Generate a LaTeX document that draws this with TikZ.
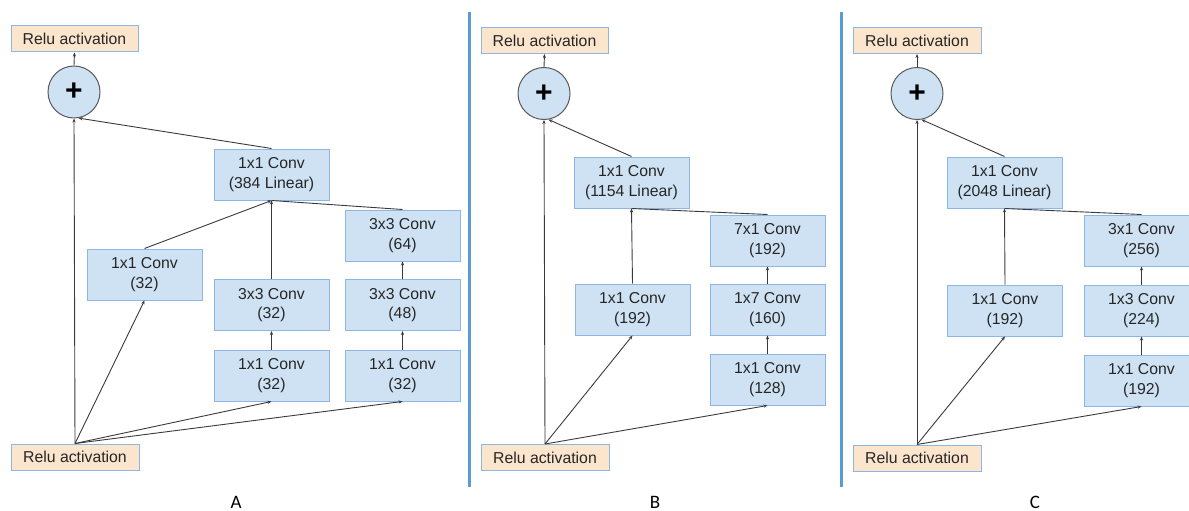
\documentclass[tikz,border=0pt]{standalone}
\usepackage{fontspec}
\setmainfont{Liberation Sans}
\newfontfamily\labelfont{Carlito}
\usetikzlibrary{arrows.meta}
\definecolor{convfill}{HTML}{CFE2F3}
\definecolor{convline}{HTML}{8DB6E6}
\definecolor{relufill}{HTML}{FCE5CD}
\definecolor{wire}{HTML}{3A3A3A}
\definecolor{divider}{HTML}{5B9BD5}
\definecolor{ringline}{HTML}{5A5A5A}
\begin{document}
\begin{tikzpicture}[x=1pt,y=-1pt,
  convbox/.style={draw=convline,fill=convfill,line width=1pt,inner sep=0pt,
    minimum width=115pt,minimum height=51pt,align=center,
    font=\fontsize{15.8}{19.5}\selectfont,text=black!85},
  relubox/.style={draw=convline,fill=relufill,line width=1pt,inner sep=0pt,
    minimum width=127pt,minimum height=26pt,
    font=\fontsize{15.8}{19.5}\selectfont,text=black!85},
  sumnode/.style={circle,draw=ringline,fill=convfill,line width=1pt,
    minimum size=52pt,inner sep=0pt,font=\fontsize{30}{30}\selectfont\bfseries},
  flow/.style={draw=wire,line width=0.9pt,-{Stealth[length=4pt,width=3.2pt]}},
  joinline/.style={draw=wire,line width=0.9pt},
  sep/.style={draw=divider,line width=2.4pt},
  panel/.style={inner sep=0pt,font=\labelfont\fontsize{19}{19}\selectfont}]
\useasboundingbox (0,0) rectangle (1189,511);

% ---------- block A ----------
\node[relubox] (aout) at (74.5,39) {Relu activation};
\node[sumnode] (asum) at (74,92) {+};
\node[convbox] (alin) at (271.5,174.5) {1x1 Conv\\(384 Linear)};
\node[convbox] (ab1) at (144.5,274.5) {1x1 Conv\\(32)};
\node[convbox] (ab2b) at (271.5,305) {3x3 Conv\\(32)};
\node[convbox] (ab2a) at (271.5,375.5) {1x1 Conv\\(32)};
\node[convbox] (ab3c) at (402.5,235.5) {3x3 Conv\\(64)};
\node[convbox] (ab3b) at (402.5,305) {3x3 Conv\\(48)};
\node[convbox] (ab3a) at (402.5,375.5) {1x1 Conv\\(32)};
\node[relubox,minimum width=128pt] (ain) at (75,457) {Relu activation};
\node[panel] (alab) at (236,502) {A};

\draw[flow] (asum.north) -- (aout.south);
\draw[flow] (ain.north) -- (asum.south);
\draw[flow] (alin.north) -- (asum.-80);
\draw[flow] (ain.north) -- (ab1.south);
\draw[flow] (ain.north) -- (ab2a.south);
\draw[flow] (ain.north) -- (ab3a.south);
\draw[flow] (ab2a.north) -- (ab2b.south);
\draw[flow] (ab3a.north) -- (ab3b.south);
\draw[flow] (ab3b.north) -- (ab3c.south);
\draw[flow] (ab1.north) -- (alin.south);
\draw[flow] (ab2b.north) -- (alin.south);
\draw[joinline] (ab3c.north) -- (alin.south);

\draw[sep] (469.5,12) -- (469.5,487);

% ---------- block B ----------
\node[relubox] (bout) at (544.5,40.5) {Relu activation};
\node[sumnode] (bsum) at (544,93.5) {+};
\node[convbox] (blin) at (631.5,182.5) {1x1 Conv\\(1154 Linear)};
\node[convbox] (bb1) at (632.5,309.5) {1x1 Conv\\(192)};
\node[convbox] (bb2c) at (767.5,240.5) {7x1 Conv\\(192)};
\node[convbox] (bb2b) at (767.5,309.5) {1x7 Conv\\(160)};
\node[convbox] (bb2a) at (767.5,379.5) {1x1 Conv\\(128)};
\node[relubox,minimum width=128pt] (bin) at (545,457.5) {Relu activation};
\node[panel] (blab) at (655,502) {B};

\draw[flow] (bsum.north) -- (bout.south);
\draw[flow] (bin.north) -- (bsum.south);
\draw[flow] (blin.north) -- (bsum.-80);
\draw[flow] (bin.north) -- (bb1.south);
\draw[flow] (bin.north) -- (bb2a.south);
\draw[flow] (bb2a.north) -- (bb2b.south);
\draw[flow] (bb2b.north) -- (bb2c.south);
\draw[flow] (bb1.north) -- (blin.south);
\draw[joinline] (bb2c.north) -- (blin.south);

\draw[sep] (841.5,12) -- (841.5,487);

% ---------- block C ----------
\node[relubox,minimum width=128pt] (cout) at (917,40.5) {Relu activation};
\node[sumnode] (csum) at (917,93.5) {+};
\node[convbox] (clin) at (1004.5,182.5) {1x1 Conv\\(2048 Linear)};
\node[convbox] (cb1) at (1005,310.5) {1x1 Conv\\(192)};
\node[convbox] (cb2c) at (1141.5,240.5) {3x1 Conv\\(256)};
\node[convbox] (cb2b) at (1141.5,310.5) {1x3 Conv\\(224)};
\node[convbox] (cb2a) at (1141.5,380.5) {1x1 Conv\\(192)};
\node[relubox,minimum width=128pt] (cin) at (917,458) {Relu activation};
\node[panel] (clab) at (1035,502) {C};

\draw[flow] (csum.north) -- (cout.south);
\draw[flow] (cin.north) -- (csum.south);
\draw[flow] (clin.north) -- (csum.-80);
\draw[flow] (cin.north) -- (cb1.south);
\draw[flow] (cin.north) -- (cb2a.south);
\draw[flow] (cb2a.north) -- (cb2b.south);
\draw[flow] (cb2b.north) -- (cb2c.south);
\draw[flow] (cb1.north) -- (clin.south);
\draw[joinline] (cb2c.north) -- (clin.south);
\end{tikzpicture}
\end{document}
